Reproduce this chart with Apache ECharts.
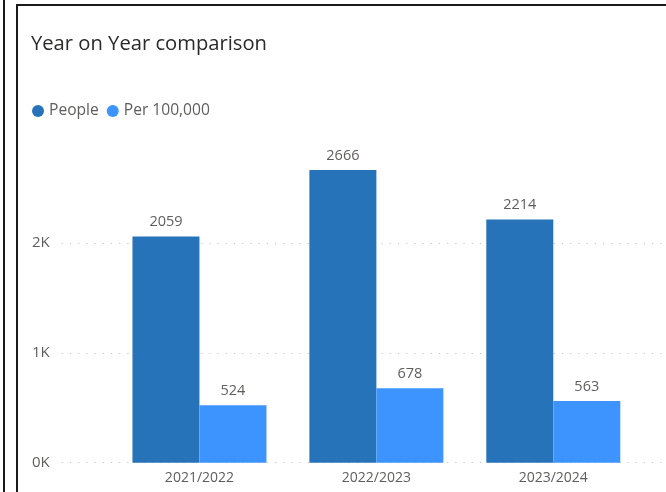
<!DOCTYPE html>
<html>
<head>
<meta charset="utf-8">
<script src="https://cdn.jsdelivr.net/npm/echarts@6/dist/echarts.min.js"></script>
<style>
  html, body { margin: 0; padding: 0; background: #ffffff; }
  #chart { width: 666px; height: 492px; }
</style>
</head>
<body>
<div id="chart"></div>
<script>
// Years compared
const categories = ['2021/2022', '2022/2023', '2023/2024'];
// Number of people per year
const peopleValues = [2059, 2666, 2214];
// Rate per 100,000 population
const per100kValues = [524, 678, 563];
// Value axis ticks (shown as 0K, 1K, 2K)
const yTicks = [0, 1000, 2000];

const FONT = '"Open Sans", "Noto Sans", sans-serif';
const TEXT_GREY = '#605E5C';
const DARK_BLUE = '#2673BA';
const LIGHT_BLUE = '#3D94FE';

const yMax = 3000;
const yStep = yTicks[1] - yTicks[0];
const plotBottom = 29.3;
const plotTop = 133.3;

const chart = echarts.init(document.getElementById('chart'), null, { renderer: 'canvas' });

chart.setOption({
  animation: false,
  backgroundColor: '#ffffff',
  textStyle: { fontFamily: FONT },
  title: {
    text: 'Year on Year comparison',
    left: 26,
    top: 29,
    textStyle: { fontFamily: FONT, fontSize: 20.2, fontWeight: 'normal', color: '#2b2a29' }
  },
  legend: {
    left: 27,
    top: 98,
    icon: 'circle',
    itemWidth: 12,
    itemHeight: 12,
    itemGap: 8,
    textStyle: { fontFamily: FONT, fontSize: 15.6, color: TEXT_GREY },
    data: ['People', 'Per 100,000']
  },
  grid: [
    // full-width area carrying the value axis and dotted gridlines
    { left: 61.7, right: 0, top: plotTop, bottom: plotBottom },
    // area holding the category bands and bars
    { left: 111, right: 24.25, top: plotTop, bottom: plotBottom }
  ],
  xAxis: [
    { type: 'category', gridIndex: 0, data: [''], show: false },
    {
      type: 'category',
      gridIndex: 1,
      data: categories,
      axisLine: { show: false },
      axisTick: { show: false },
      axisLabel: { margin: 8, fontFamily: FONT, fontSize: 14, color: TEXT_GREY }
    }
  ],
  yAxis: [
    {
      type: 'value',
      gridIndex: 0,
      min: 0,
      max: yMax,
      interval: yStep,
      axisLine: { show: false },
      axisTick: { show: false },
      axisLabel: {
        margin: 12,
        showMaxLabel: false,
        fontFamily: FONT,
        fontSize: 15,
        color: TEXT_GREY,
        formatter: v => (v / 1000) + 'K'
      },
      splitLine: {
        show: true,
        showMaxLine: false,
        lineStyle: { color: '#C8C6C4', width: 1.2, type: [1.2, 7] }
      }
    },
    {
      type: 'value',
      gridIndex: 1,
      min: 0,
      max: yMax,
      interval: yStep,
      show: false,
      splitLine: { show: false }
    }
  ],
  series: [
    {
      name: 'People',
      type: 'bar',
      xAxisIndex: 1,
      yAxisIndex: 1,
      data: peopleValues,
      barWidth: 67,
      barGap: '0%',
      itemStyle: { color: DARK_BLUE },
      label: {
        show: true,
        position: 'top',
        distance: 7,
        fontFamily: FONT,
        fontSize: 14.5,
        color: TEXT_GREY
      }
    },
    {
      name: 'Per 100,000',
      type: 'bar',
      xAxisIndex: 1,
      yAxisIndex: 1,
      data: per100kValues,
      barWidth: 67,
      barGap: '0%',
      itemStyle: { color: LIGHT_BLUE },
      label: {
        show: true,
        position: 'top',
        distance: 7,
        fontFamily: FONT,
        fontSize: 14.5,
        color: TEXT_GREY
      }
    }
  ],
  graphic: [
    // page divider on the far left
    { type: 'rect', shape: { x: 3, y: 0, width: 2, height: 492 }, style: { fill: '#1a1a1a' }, silent: true },
    // visual container border
    { type: 'rect', shape: { x: 16, y: 4, width: 2, height: 488 }, style: { fill: '#1a1a1a' }, silent: true },
    { type: 'rect', shape: { x: 16, y: 4, width: 650, height: 2 }, style: { fill: '#1a1a1a' }, silent: true }
  ]
});
</script>
</body>
</html>
